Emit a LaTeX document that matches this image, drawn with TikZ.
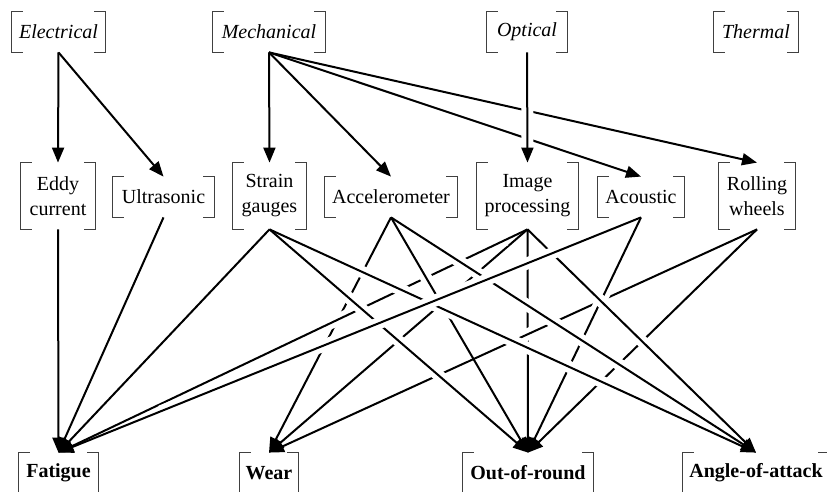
\documentclass[tikz,border=0pt]{standalone}
\usepackage{fontspec}
\setmainfont{Liberation Serif}
\usetikzlibrary{arrows.meta,calc}
\newcommand\brk[1]{%
 \draw[brkl] ([xshift=5.5pt]#1.north west) -- (#1.north west) -- (#1.south west) -- ([xshift=5.5pt]#1.south west);
 \draw[brkl] ([xshift=-5.5pt]#1.north east) -- (#1.north east) -- (#1.south east) -- ([xshift=-5.5pt]#1.south east);}
\begin{document}
\begin{tikzpicture}[x=0.5pt,y=-0.5pt,
  brkl/.style={draw=black!75, line width=0.6pt},
  nd/.style 2 args={inner sep=0pt, minimum width=#1*0.5pt, minimum height=#2*0.5pt, align=center},
  md/.style={font=\fontsize{10}{12.5}\selectfont},
  tp/.style={font=\fontsize{10}{12.5}\selectfont\itshape},
  bt/.style={font=\fontsize{10}{12.5}\selectfont\bfseries},
  ar/.style={line width=1pt, -{Triangle[length=7.5pt,width=6pt]}},
  gp/.style 2 args={preaction={draw=white, line width=6pt, -, shorten <=#1, shorten >=#2}},
  bg/.style={gp={12pt}{55pt}}
]
\useasboundingbox[fill=white] (0,0) rectangle (827,492);
% top row
\node[nd={93}{40},tp] (elec) at (58.5,32) {Electrical};
\node[nd={112}{40},tp] (mech) at (269,32) {Mechanical};
\node[nd={80}{40},tp] (opt) at (527,32) {Optical};
\node[nd={84}{40},tp] (therm) at (756,32) {Thermal};
% middle row
\node[nd={74}{66},md] (eddy) at (58,196) {Eddy\\current};
\node[nd={101}{40},md] (ultra) at (163.5,197) {Ultrasonic};
\node[nd={73}{66},md] (strain) at (269.5,196) {Strain\\gauges};
\node[nd={132}{40},md] (accel) at (391,197) {Accelerometer};
\node[nd={101}{66},md] (image) at (527.5,196) {Image\\processing};
\node[nd={86}{40},md] (acou) at (641,197) {Acoustic};
\node[nd={76}{66},md] (roll) at (757,196) {Rolling\\wheels};
% bottom row
\node[nd={79}{40},bt] (fat) at (58.5,473) {Fatigue};
\node[nd={58}{40},bt] (wear) at (269,473) {Wear};
\node[nd={130}{40},bt] (oor) at (528,473) {Out-of-round};
\node[nd={146}{40},bt] (aoa) at (756,473) {Angle-of-attack};
\foreach \n in {elec,mech,opt,therm,eddy,ultra,strain,accel,image,acou,roll,fat,wear,oor,aoa}{\brk{\n}}
% top edges
\draw[ar] (elec.south) -- (eddy.north);
\draw[ar] (elec.south) -- (ultra.north);
\draw[ar] (mech.south) -- (strain.north);
\draw[ar] (mech.south) -- (accel.north);
\draw[ar] (mech.south) -- (acou.north);
\draw[ar] (mech.south) -- (roll.north);
\draw[ar,gp={6pt}{6pt}] (opt.south) -- (image.north);
% bottom edges (first drawn lies lowest)
\draw[ar,bg] (accel.south) -- (wear.north);
\draw[ar,bg] (image.south) -- (oor.north);
\draw[ar,bg] (roll.south) -- (wear.north);
\draw[ar,bg] (roll.south) -- (oor.north);
\draw[ar,bg] (acou.south) -- (oor.north);
\draw[ar,bg] (image.south) -- (wear.north);
\draw[ar,bg] (image.south) -- (fat.north);
\draw[ar,bg] (accel.south) -- (oor.north);
\draw[ar,bg] (strain.south) -- (oor.north);
\draw[ar,bg] (image.south) -- (aoa.north);
\draw[ar,bg] (accel.south) -- (aoa.north);
\draw[ar,bg] (strain.south) -- (aoa.north);
\draw[ar,bg] (acou.south) -- (fat.north);
\draw[ar,bg] (strain.south) -- (fat.north);
\draw[ar,bg] (ultra.south) -- (fat.north);
\draw[ar,bg] (eddy.south) -- (fat.north);
\end{tikzpicture}
\end{document}
